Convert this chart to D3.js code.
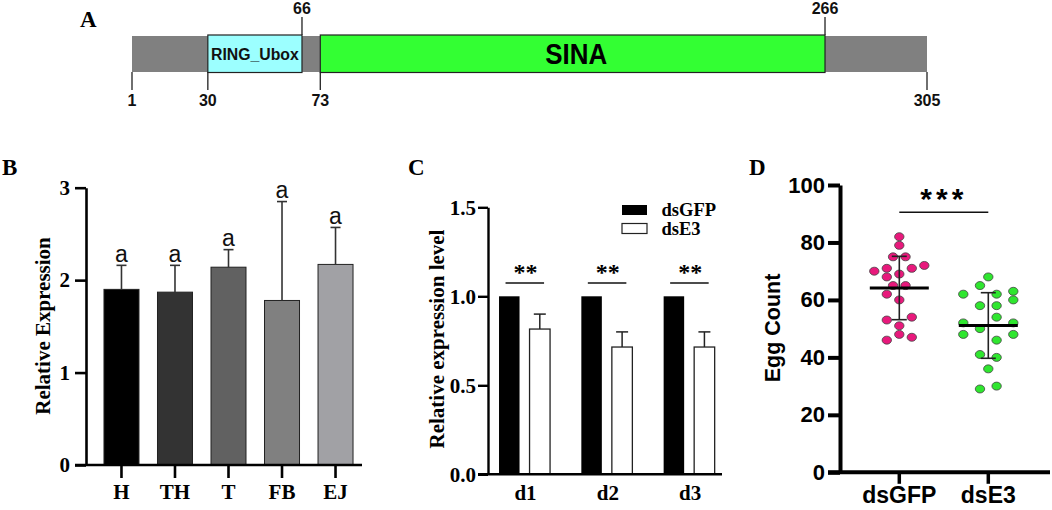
<!DOCTYPE html>
<html><head><meta charset="utf-8">
<script src="https://cdn.jsdelivr.net/npm/d3@7"></script>
<style>body{margin:0;background:#fff} svg{display:block}</style>
</head><body>
<svg id="c" width="1052" height="510"></svg>
<script>
// ---------- Panel A: protein domain structure ----------
const proteinRange = [1, 305];
const domainNames = ["RING_Ubox", "SINA"];
const domainStart = [30, 73];
const domainEnd = [66, 266];
const ticksAbove = [66, 266];
const ticksBelow = [1, 30, 73, 305];

// ---------- Panel B: tissue expression ----------
const tissues = ["H", "TH", "T", "FB", "EJ"];
const tissueMean = [1.90, 1.87, 2.14, 1.78, 2.17];
const tissueErr = [0.26, 0.29, 0.19, 1.07, 0.40];
const tissueSig = ["a", "a", "a", "a", "a"];
const yTicksB = [0, 1, 2, 3];

// ---------- Panel C: RNAi efficiency ----------
const days = ["d1", "d2", "d3"];
const treatments = ["dsGFP", "dsE3"];
const dsGFPLevel = [1.0, 1.0, 1.0];
const dsE3Level = [0.816, 0.715, 0.715];
const dsE3Err = [0.084, 0.085, 0.085];
const daySig = ["**", "**", "**"];
const yTicksC = [0, 0.5, 1.0, 1.5];

// ---------- Panel D: egg count ----------
const groups = ["dsGFP", "dsE3"];
const dsGFPEggs = [82, 79, 75, 75, 70, 71, 71, 72, 68, 69, 65, 65, 62, 60, 53, 54, 51, 48, 46, 47];
const dsGFPSlot = [0, 0, -1, 1, -4, -2, 2, 4, -2, 0, -1, 1, -2, 0, -2, 2, 0, 0, -2, 2];
const dsE3Eggs = [68, 65, 62, 62, 63, 60, 58, 58, 54, 52, 52, 50, 48, 48, 46, 41, 40, 36, 29, 30];
const dsE3Slot = [0, -1.33, -4, 1.33, 4, 4, -1.33, 1.33, 1.33, -4, 4, -1.33, -4, 4, 1.33, -1.33, 1.33, 0, -1.33, 1.33];
const yTicksD = [0, 20, 40, 60, 80, 100];
const sigD = "***";

const SERIF = "'Liberation Serif','Times New Roman',serif";
const SANS = "'Liberation Sans',Arial,sans-serif";
const svg = d3.select("#c");

function panelLabel(t, x, y) {
  svg.append("text").attr("x", x).attr("y", y).text(t)
    .attr("font-family", SERIF).attr("font-weight", "bold").attr("font-size", 23).attr("fill", "#000");
}
function styleAxis(g, w, font, size) {
  g.select(".domain").attr("stroke", "#000").attr("stroke-width", w);
  g.selectAll(".tick line").attr("stroke", "#000").attr("stroke-width", w);
  g.selectAll(".tick text").attr("font-family", font).attr("font-weight", "bold")
    .attr("font-size", size).attr("fill", "#000");
}

// ===== Panel A =====
{
  const xA = d3.scaleLinear().domain(proteinRange).range([132, 927]);
  const g = svg.append("g");
  panelLabel("A", 80, 27);
  g.append("rect").attr("x", xA(proteinRange[0])).attr("y", 36)
    .attr("width", xA(proteinRange[1]) - xA(proteinRange[0])).attr("height", 36).attr("fill", "#808080");
  const fills = ["#9cffff", "#33ff33"];
  domainNames.forEach((n, i) => {
    g.append("rect").attr("x", xA(domainStart[i])).attr("y", 35)
      .attr("width", xA(domainEnd[i]) - xA(domainStart[i])).attr("height", 37.5)
      .attr("fill", fills[i]).attr("stroke", "#222").attr("stroke-width", 1.2);
  });
  const cx0 = (xA(domainStart[0]) + xA(domainEnd[0])) / 2;
  g.append("text").attr("x", cx0).attr("y", 60).attr("text-anchor", "middle").text(domainNames[0])
    .attr("font-family", SANS).attr("font-weight", "bold").attr("font-size", 15.8).attr("fill", "#111");
  const cx1 = (xA(domainStart[1]) + xA(domainEnd[1])) / 2 + 3.5;
  g.append("text").attr("x", cx1 - 31).attr("y", 63.5).text(domainNames[1])
    .attr("textLength", 62).attr("lengthAdjust", "spacingAndGlyphs")
    .attr("font-family", SANS).attr("font-weight", "bold").attr("font-size", 29).attr("fill", "#000");
  ticksAbove.forEach(v => {
    g.append("line").attr("x1", xA(v)).attr("x2", xA(v)).attr("y1", 17).attr("y2", 35)
      .attr("stroke", "#222").attr("stroke-width", 1.3);
    g.append("text").attr("x", xA(v)).attr("y", 13.5).attr("text-anchor", "middle").text(v)
      .attr("font-family", SANS).attr("font-weight", "bold").attr("font-size", 16).attr("fill", "#111");
  });
  ticksBelow.forEach(v => {
    g.append("line").attr("x1", xA(v)).attr("x2", xA(v)).attr("y1", 72).attr("y2", 90)
      .attr("stroke", "#222").attr("stroke-width", 1.3);
    g.append("text").attr("x", xA(v)).attr("y", 106).attr("text-anchor", "middle").text(v)
      .attr("font-family", SANS).attr("font-weight", "bold").attr("font-size", 16).attr("fill", "#111");
  });
}

// ===== Panel B =====
{
  panelLabel("B", 2, 175);
  const xB = d3.scaleBand().domain(tissues).range([86, 371]).paddingInner(0.346).paddingOuter(0.336);
  const yB = d3.scaleLinear().domain([0, 3]).range([465, 187.7]);
  const colors = ["#000000", "#333333", "#616161", "#808080", "#a1a1a5"];
  const bw = xB.bandwidth();
  tissues.forEach((t, i) => {
    const cx = xB(t) + bw / 2;
    svg.append("rect").attr("x", xB(t)).attr("y", yB(tissueMean[i]))
      .attr("width", bw).attr("height", yB(0) - yB(tissueMean[i]))
      .attr("fill", colors[i]).attr("stroke", "#222").attr("stroke-width", 1);
    const top = yB(tissueMean[i] + tissueErr[i]);
    svg.append("line").attr("x1", cx).attr("x2", cx).attr("y1", yB(tissueMean[i])).attr("y2", top)
      .attr("stroke", "#333").attr("stroke-width", 1.6);
    svg.append("line").attr("x1", cx - 5).attr("x2", cx + 5).attr("y1", top).attr("y2", top)
      .attr("stroke", "#333").attr("stroke-width", 1.6);
    svg.append("text").attr("x", cx).attr("y", top - 3.5).attr("text-anchor", "middle").text(tissueSig[i])
      .attr("font-family", SANS).attr("font-size", 23).attr("fill", "#111");
  });
  const ga = svg.append("g").attr("transform", "translate(86,0)")
    .call(d3.axisLeft(yB).tickValues(yTicksB).tickFormat(d3.format("d")).tickSize(11).tickSizeOuter(0).tickPadding(5));
  styleAxis(ga, 2.6, SERIF, 21);
  svg.append("line").attr("x1", 75).attr("x2", 362).attr("y1", yB(0)).attr("y2", yB(0))
    .attr("stroke", "#000").attr("stroke-width", 2.6);
  tissues.forEach(t => {
    const cx = xB(t) + bw / 2;
    svg.append("line").attr("x1", cx).attr("x2", cx).attr("y1", yB(0)).attr("y2", yB(0) + 13)
      .attr("stroke", "#000").attr("stroke-width", 2.6);
    svg.append("text").attr("x", cx).attr("y", 499).attr("text-anchor", "middle").text(t)
      .attr("font-family", SERIF).attr("font-weight", "bold").attr("font-size", 21).attr("fill", "#000");
  });
  svg.append("text").attr("transform", "translate(50,326) rotate(-90)").attr("text-anchor", "middle")
    .text("Relative Expression").attr("font-family", SERIF).attr("font-weight", "bold")
    .attr("font-size", 21).attr("fill", "#000");
}

// ===== Panel C =====
{
  panelLabel("C", 408, 175);
  const xC = d3.scaleBand().domain(days).range([488, 725.7]).paddingInner(0.38).paddingOuter(0.134);
  const xS = d3.scaleBand().domain(treatments).range([0, xC.bandwidth()]).paddingInner(0.328);
  const yC = d3.scaleLinear().domain([0, 1.5]).range([474.3, 207.3]);
  const sw = xS.bandwidth();
  days.forEach((d, i) => {
    const x0 = xC(d) + xS("dsGFP"), x1 = xC(d) + xS("dsE3");
    svg.append("rect").attr("x", x0).attr("y", yC(dsGFPLevel[i])).attr("width", sw)
      .attr("height", yC(0) - yC(dsGFPLevel[i])).attr("fill", "#000");
    svg.append("rect").attr("x", x1).attr("y", yC(dsE3Level[i])).attr("width", sw)
      .attr("height", yC(0) - yC(dsE3Level[i])).attr("fill", "#fff").attr("stroke", "#222").attr("stroke-width", 1.3);
    const cx = x1 + sw / 2, top = yC(dsE3Level[i] + dsE3Err[i]);
    svg.append("line").attr("x1", cx).attr("x2", cx).attr("y1", yC(dsE3Level[i])).attr("y2", top)
      .attr("stroke", "#222").attr("stroke-width", 1.5);
    svg.append("line").attr("x1", cx - 6).attr("x2", cx + 6).attr("y1", top).attr("y2", top)
      .attr("stroke", "#222").attr("stroke-width", 1.5);
    const ly = yC(1.075);
    svg.append("line").attr("x1", xC(d) + 6.5).attr("x2", xC(d) + xC.bandwidth() - 6)
      .attr("y1", ly).attr("y2", ly).attr("stroke", "#111").attr("stroke-width", 1.5);
    svg.append("text").attr("x", xC(d) + xC.bandwidth() / 2 + 1).attr("y", ly - 3).attr("text-anchor", "middle")
      .text(daySig[i]).attr("font-family", SERIF).attr("font-weight", "bold").attr("font-size", 24).attr("fill", "#000");
    svg.append("text").attr("x", xC(d) + xC.bandwidth() / 2 + 1).attr("y", 500).attr("text-anchor", "middle")
      .text(d).attr("font-family", SERIF).attr("font-weight", "bold").attr("font-size", 21).attr("fill", "#000");
  });
  const ga = svg.append("g").attr("transform", "translate(488,0)")
    .call(d3.axisLeft(yC).tickValues(yTicksC).tickFormat(d3.format(".1f")).tickSize(10).tickSizeOuter(0).tickPadding(2));
  styleAxis(ga, 2.4, SERIF, 21);
  svg.append("line").attr("x1", 478).attr("x2", 722).attr("y1", yC(0)).attr("y2", yC(0))
    .attr("stroke", "#000").attr("stroke-width", 2.4);
  // legend
  const lg = svg.append("g");
  lg.append("rect").attr("x", 622).attr("y", 205).attr("width", 25).attr("height", 10).attr("fill", "#000");
  lg.append("rect").attr("x", 622).attr("y", 223.5).attr("width", 25).attr("height", 10)
    .attr("fill", "#fff").attr("stroke", "#222").attr("stroke-width", 1.2);
  lg.append("text").attr("x", 661.5).attr("y", 215.5).text(treatments[0])
    .attr("font-family", SERIF).attr("font-weight", "bold").attr("font-size", 18.5).attr("fill", "#000");
  lg.append("text").attr("x", 661.5).attr("y", 234.5).text(treatments[1])
    .attr("font-family", SERIF).attr("font-weight", "bold").attr("font-size", 18.5).attr("fill", "#000");
  svg.append("text").attr("transform", "translate(443.5,339) rotate(-90)").attr("text-anchor", "middle")
    .text("Relative expression level").attr("font-family", SERIF).attr("font-weight", "bold")
    .attr("font-size", 21).attr("fill", "#000");
}

// ===== Panel D =====
{
  panelLabel("D", 749, 175);
  const xD = d3.scalePoint().domain(groups).range([899.3, 988.3]);
  const yD = d3.scaleLinear().domain([0, 100]).range([472.3, 185]);
  const slotW = 6.25;
  const sets = [
    { g: groups[0], v: dsGFPEggs, s: dsGFPSlot, fill: "#e8197c" },
    { g: groups[1], v: dsE3Eggs, s: dsE3Slot, fill: "#2fe62f" }
  ];
  sets.forEach(S => {
    svg.append("g").selectAll("ellipse").data(S.v).join("ellipse")
      .attr("cx", (d, i) => xD(S.g) + S.s[i] * slotW).attr("cy", d => yD(d))
      .attr("rx", 4.7).attr("ry", 4).attr("fill", S.fill).attr("stroke", "#444").attr("stroke-width", 0.8);
  });
  sets.forEach(S => {
    const m = d3.mean(S.v), sd = d3.deviation(S.v), cx = xD(S.g);
    svg.append("line").attr("x1", cx).attr("x2", cx).attr("y1", yD(m - sd)).attr("y2", yD(m + sd))
      .attr("stroke", "#222").attr("stroke-width", 1.6);
    [m - sd, m + sd].forEach(v => svg.append("line").attr("x1", cx - 7.5).attr("x2", cx + 7.5)
      .attr("y1", yD(v)).attr("y2", yD(v)).attr("stroke", "#222").attr("stroke-width", 1.6));
    svg.append("line").attr("x1", cx - 29.5).attr("x2", cx + 29.5).attr("y1", yD(m)).attr("y2", yD(m))
      .attr("stroke", "#000").attr("stroke-width", 3);
  });
  const ga = svg.append("g").attr("transform", "translate(840,0)")
    .call(d3.axisLeft(yD).tickValues(yTicksD).tickSize(12).tickSizeOuter(0).tickPadding(3));
  styleAxis(ga, 4, SANS, 22);
  svg.append("line").attr("x1", 828).attr("x2", 1050).attr("y1", yD(0)).attr("y2", yD(0))
    .attr("stroke", "#000").attr("stroke-width", 4);
  groups.forEach(gn => {
    svg.append("line").attr("x1", xD(gn)).attr("x2", xD(gn)).attr("y1", yD(0)).attr("y2", yD(0) + 11.5)
      .attr("stroke", "#000").attr("stroke-width", 3.5);
    svg.append("text").attr("x", xD(gn)).attr("y", 503).attr("text-anchor", "middle").text(gn)
      .attr("font-family", SANS).attr("font-weight", "bold").attr("font-size", 23).attr("fill", "#000");
  });
  const sy = yD(90.5);
  svg.append("line").attr("x1", xD(groups[0])).attr("x2", xD(groups[1])).attr("y1", sy).attr("y2", sy)
    .attr("stroke", "#111").attr("stroke-width", 1.6);
  svg.append("text").attr("x", (xD(groups[0]) + xD(groups[1])) / 2).attr("y", sy - 3).attr("text-anchor", "middle")
    .attr("letter-spacing", 4).text(sigD).attr("font-family", SANS).attr("font-weight", "bold")
    .attr("font-size", 30).attr("fill", "#000");
  svg.append("text").attr("transform", "translate(780,328) rotate(-90)").attr("text-anchor", "middle")
    .text("Egg Count").attr("font-family", SANS).attr("font-weight", "bold")
    .attr("font-size", 21.5).attr("fill", "#000");
}
</script>
</body></html>
